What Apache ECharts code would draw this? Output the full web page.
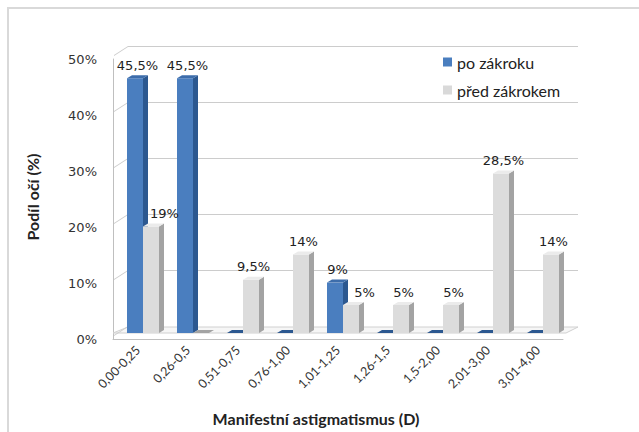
<!DOCTYPE html>
<html>
<head>
<meta charset="utf-8">
<script src="https://cdn.jsdelivr.net/npm/echarts@6/dist/echarts.min.js"></script>
<style>
  html, body { margin: 0; padding: 0; background: #fff; }
  #chart { width: 639px; height: 432px; }
</style>
</head>
<body>
<div id="chart"></div>
<script>
const categories = ["0,00-0,25", "0,26-0,5", "0,51-0,75", "0,76-1,00", "1,01-1,25", "1,26-1,5", "1,5-2,00", "2,01-3,00", "3,01-4,00"];
const poZakroku = [45.5, 45.5, 0, 0, 9, 0, 0, 0, 0];
const predZakrokem = [19, 0, 9.5, 14, 5, 5, 5, 28.5, 14];
const yTicks = [0, 10, 20, 30, 40, 50];

const chart = echarts.init(document.getElementById("chart"), null, { renderer: "svg" });

// 3D-ish bar: front face, side, top
const DX = 5, DY = 3, LIFT = 6, BAR_W = 16;
const DEPTH_X = 15, DEPTH_Y = 7;
function barRenderer(offset, colors, isGray) {
  return function (params, api) {
    const i = api.value(0);
    const v = api.value(1);
    const c = api.coord([i, v]);
    const c0 = api.coord([i, 0]);
    const band = api.size([1, 0])[0];
    const left = c[0] - band / 2 + offset;
    const yTop = c[1] - LIFT;
    const yBase = c0[1] - LIFT;
    const children = [];
    if (v > 0) {
      children.push({
        type: "rect",
        shape: { x: left, y: yTop, width: BAR_W, height: yBase - yTop },
        style: { fill: colors.front }
      });
      children.push({
        type: "polygon",
        shape: { points: [[left + BAR_W, yTop], [left + BAR_W + DX, yTop - DY], [left + BAR_W + DX, yBase - DY], [left + BAR_W, yBase]] },
        style: { fill: colors.side }
      });
    }
    children.push({
      type: "polygon",
      shape: { points: [[left, yTop], [left + DX, yTop - DY], [left + BAR_W + DX, yTop - DY], [left + BAR_W, yTop]] },
      style: { fill: v > 0 ? colors.top : colors.side }
    });
    if (v > 0) {
      let shift = 0;
      if (isGray && poZakroku[i] > v) shift = 11;
      children.push({
        type: "text",
        style: {
          text: String(v).replace(".", ",") + "%",
          x: left + (BAR_W + DX) / 2 + shift,
          y: yTop - 13,
          align: "center",
          verticalAlign: "middle",
          fill: "#222",
          font: "13px 'DejaVu Sans'"
        }
      });
    }
    return { type: "group", children: children };
  };
}

const option = {
  animation: false,
  backgroundColor: "#fff",
  grid: { left: 113, right: 76, top: 59, bottom: 93 },
  legend: {
    data: ["po zákroku", "před zákrokem"],
    orient: "vertical",
    left: 438,
    top: 49,
    icon: "rect",
    itemWidth: 9,
    itemHeight: 9,
    itemGap: 12,
    textStyle: { fontFamily: "Lato", fontSize: 16, color: "#222" }
  },
  xAxis: {
    type: "category",
    data: categories,
    axisLine: { lineStyle: { color: "#bfbfbf" } },
    axisTick: { length: 5, lineStyle: { color: "#bfbfbf" } },
    axisLabel: { rotate: 45, fontFamily: "Lato", fontSize: 12.5, color: "#333", margin: 9, interval: 0 }
  },
  yAxis: {
    type: "value",
    min: 0,
    max: 50,
    interval: 10,
    splitLine: { show: false },
    axisLine: { show: true, lineStyle: { color: "#bfbfbf" } },
    axisTick: { show: false },
    axisLabel: { formatter: "{value}%", fontFamily: "DejaVu Sans", fontSize: 13, color: "#333", margin: 16 }
  },
  graphic: [
    { type: "rect", shape: { x: 8, y: 8, width: 660, height: 460 }, style: { fill: "none", stroke: "#d9d9d9", lineWidth: 2 } },
    { type: "text", x: 32, y: 197, rotation: Math.PI / 2, style: { text: "Podíl očí (%)", align: "center", verticalAlign: "middle", font: "bold 16px Lato", fill: "#222" } },
    { type: "text", x: 316, y: 418, style: { text: "Manifestní astigmatismus (D)", align: "center", verticalAlign: "middle", font: "bold 16px Lato", fill: "#222" } }
  ],
  series: [
    {
      // floor
      name: "floor",
      type: "custom",
      data: [[0, 0]],
      renderItem: function (params, api) {
        const c = api.coord([0, 0]);
        const band = api.size([1, 0])[0];
        const x0 = c[0] - band / 2;
        const xEnd = x0 + band * categories.length;
        const y = c[1] - LIFT;
        return {
          type: "polygon",
          shape: { points: [[x0, y], [xEnd + 3, y], [xEnd + DEPTH_X, y - 6], [x0 + DEPTH_X, y - 6]] },
          style: { fill: "#f6f6f6", stroke: "#d0d0d0", lineWidth: 1 }
        };
      }
    },
    {
      // back wall grid lines
      name: "gridlines",
      type: "custom",
      data: yTicks.slice(1).map(t => [0, t]),
      renderItem: function (params, api) {
        const c = api.coord([0, api.value(1)]);
        const band = api.size([1, 0])[0];
        const x0 = c[0] - band / 2;
        return {
          type: "rect",
          shape: { x: x0 + DEPTH_X, y: Math.round(c[1] - LIFT - DEPTH_Y), width: band * categories.length, height: 1 },
          style: { fill: "#cccccc" }
        };
      }
    },
    {
      // left wall slants
      name: "leftwall",
      type: "custom",
      data: yTicks.map(t => [0, t]),
      renderItem: function (params, api) {
        const c = api.coord([0, api.value(1)]);
        const band = api.size([1, 0])[0];
        const x0 = c[0] - band / 2;
        const y = c[1] - LIFT;
        return {
          type: "polygon",
          shape: { points: [[x0 + 1, y + 2], [x0 + DEPTH_X, y - DEPTH_Y], [x0 + DEPTH_X, y - DEPTH_Y + 1], [x0 + 1, y + 3]] },
          style: { fill: "#cccccc" }
        };
      }
    },
    {
      name: "po zákroku",
      type: "custom",
      itemStyle: { color: "#4a7ebf" },
      data: poZakroku.map((v, i) => [i, v]),
      renderItem: barRenderer(14, { front: "#4a7ebf", side: "#2c5890", top: "#3d6dab" }, false)
    },
    {
      name: "před zákrokem",
      type: "custom",
      itemStyle: { color: "#d9d9d9" },
      data: predZakrokem.map((v, i) => [i, v]),
      renderItem: barRenderer(30, { front: "#dcdcdc", side: "#a3a3a3", top: "#ebebeb" }, true)
    }
  ]
};

chart.setOption(option);
</script>
</body>
</html>
